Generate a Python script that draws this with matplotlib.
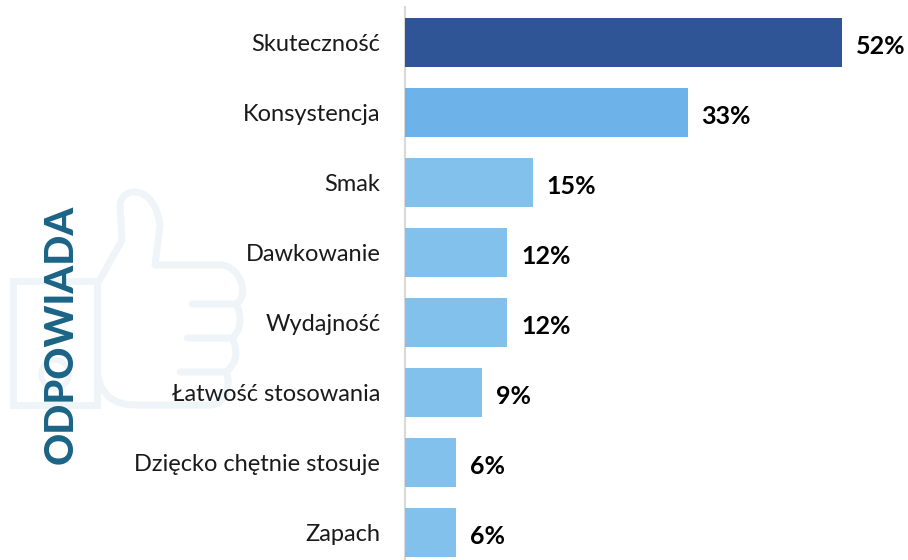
import matplotlib
matplotlib.use("Agg")
import matplotlib.pyplot as plt
from matplotlib.path import Path
from matplotlib.patches import PathPatch, Rectangle, Circle

plt.rcParams['font.family'] = ['Lato', 'DejaVu Sans']

categories = ["Skuteczność", "Konsystencja", "Smak", "Dawkowanie", "Wydajność",
              "Łatwość stosowania", "Dzięcko chętnie stosuje", "Zapach"]
values = [51.4, 33.2, 15, 12, 12, 9, 6, 6]
labels = ["52%", "33%", "15%", "12%", "12%", "9%", "6%", "6%"]
colors = ["#2F5597", "#6DB3EA", "#82C1EC", "#82C1EC", "#82C1EC", "#82C1EC", "#82C1EC", "#82C1EC"]

W, H = 908, 560
LEFT = 405.3
fig = plt.figure(figsize=(W / 100, H / 100), dpi=100)

# background layer in pixel coords, for the thumbs up icon
bg = fig.add_axes([0, 0, 1, 1])
bg.set_xlim(0, W)
bg.set_ylim(H, 0)
bg.axis("off")

icon = "#EEF4F8"
bg.add_patch(Rectangle((13, 281), 84, 124, fill=False, ec=icon, lw=5))
bg.add_patch(Circle((55, 374), 14, fill=False, ec=icon, lw=4))
thumb = [
    (Path.MOVETO, (98, 283)), (Path.LINETO, (122, 240)), (Path.LINETO, (120, 205)),
    (Path.CURVE4, (122, 185)), (Path.CURVE4, (155, 185)), (Path.CURVE4, (160, 225)),
    (Path.LINETO, (155, 265)), (Path.LINETO, (222, 265)),
    (Path.CURVE4, (240, 267)), (Path.CURVE4, (250, 295)), (Path.CURVE4, (236, 304)),
    (Path.CURVE4, (242, 315)), (Path.CURVE4, (242, 330)), (Path.CURVE4, (232, 338)),
    (Path.CURVE4, (238, 350)), (Path.CURVE4, (238, 362)), (Path.CURVE4, (226, 372)),
    (Path.CURVE4, (232, 385)), (Path.CURVE4, (225, 405)), (Path.CURVE4, (210, 405)),
    (Path.LINETO, (135, 405)), (Path.CURVE4, (115, 405)), (Path.CURVE4, (100, 395)), (Path.CURVE4, (98, 375)),
    (Path.MOVETO, (236, 304)), (Path.LINETO, (192, 304)),
    (Path.MOVETO, (232, 338)), (Path.LINETO, (187, 338)),
    (Path.MOVETO, (226, 372)), (Path.LINETO, (180, 372)),
]
bg.add_patch(PathPatch(Path([p[1] for p in thumb], [p[0] for p in thumb]),
                       fill=False, ec=icon, lw=5, capstyle="round", joinstyle="round"))

bg.text(61, 334, "ODPOWIADA", rotation=90, ha="center", va="center",
        fontsize=28.5, fontweight="black", color="#1B6486")

# bar chart, one x unit is 8.5 px and one category 70 px
ax = fig.add_axes([LEFT / W, 0, (W - LEFT) / W, 1])
ax.patch.set_alpha(0)
ax.barh(range(len(values)), values, height=0.7, color=colors, zorder=3)
ax.set_xlim(0, (W - LEFT) / 8.5)
ax.set_ylim((H - 42.5) / 70, -42.5 / 70)

for i, (v, lab) in enumerate(zip(values, labels)):
    ax.annotate(lab, (v, i), xytext=(14, -4), textcoords="offset pixels", va="center",
                ha="left", fontsize=18, fontweight="bold", color="black")

ax.set_yticks(range(len(categories)), categories, fontsize=17, color="#1a1a1a")
ax.tick_params(axis="y", length=0, pad=18)
ax.set_xticks([])
for s in ["top", "right", "bottom"]:
    ax.spines[s].set_visible(False)
ax.spines["left"].set_color("#D9D9D9")
ax.spines["left"].set_linewidth(1.5)
ax.spines["left"].set_zorder(1)
ax.spines["left"].set_bounds((H - 42.5) / 70, (7 - 42.5) / 70)

fig.savefig("out.png", dpi=100)
